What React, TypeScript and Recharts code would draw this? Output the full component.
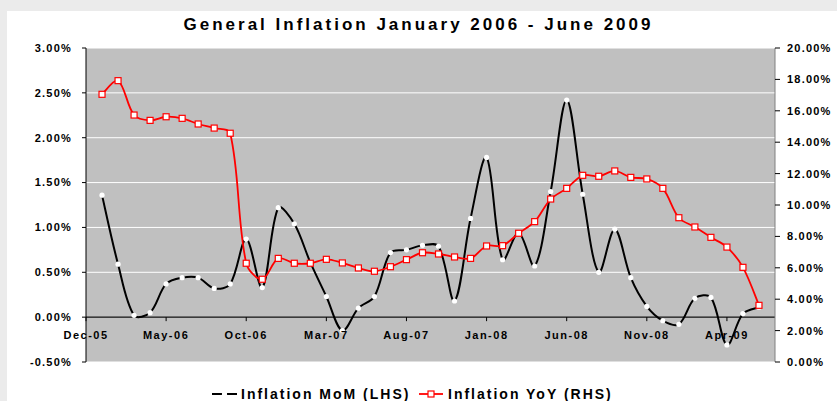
import { LineChart, Line, XAxis, YAxis, CartesianGrid, ReferenceLine } from 'recharts'

const MONTHS = [
  'Jan-06', 'Feb-06', 'Mar-06', 'Apr-06', 'May-06', 'Jun-06', 'Jul-06', 'Aug-06', 'Sep-06', 'Oct-06', 'Nov-06', 'Dec-06',
  'Jan-07', 'Feb-07', 'Mar-07', 'Apr-07', 'May-07', 'Jun-07', 'Jul-07', 'Aug-07', 'Sep-07', 'Oct-07', 'Nov-07', 'Dec-07',
  'Jan-08', 'Feb-08', 'Mar-08', 'Apr-08', 'May-08', 'Jun-08', 'Jul-08', 'Aug-08', 'Sep-08', 'Oct-08', 'Nov-08', 'Dec-08',
  'Jan-09', 'Feb-09', 'Mar-09', 'Apr-09', 'May-09', 'Jun-09',
]

// month on month, % (left axis)
const MOM = [
  1.36, 0.59, 0.02, 0.05, 0.37, 0.44, 0.44, 0.32, 0.37, 0.87, 0.33, 1.22,
  1.04, 0.61, 0.23, -0.15, 0.1, 0.23, 0.72, 0.75, 0.8, 0.79, 0.18, 1.1,
  1.78, 0.64, 0.94, 0.57, 1.4, 2.42, 1.37, 0.5, 0.98, 0.44, 0.12, -0.04,
  -0.08, 0.21, 0.22, -0.31, 0.04, 0.11,
]

// year on year, % (right axis)
const YOY = [
  17.05, 17.92, 15.73, 15.39, 15.62, 15.52, 15.16, 14.9, 14.57, 6.29, 5.27, 6.6,
  6.29, 6.29, 6.54, 6.31, 5.99, 5.78, 6.07, 6.52, 6.96, 6.88, 6.69, 6.6,
  7.39, 7.41, 8.2, 8.94, 10.38, 11.06, 11.89, 11.83, 12.17, 11.76, 11.66, 11.06,
  9.19, 8.6, 7.94, 7.32, 6.03, 3.61,
]

// axis starts one month before the data (Dec-05), labels every 5 months
const X_TICK_LABELS = ['Dec-05', 'May-06', 'Oct-06', 'Mar-07', 'Aug-07', 'Jan-08', 'Jun-08', 'Nov-08', 'Apr-09']
const LEFT_TICKS = [-0.5, 0, 0.5, 1, 1.5, 2, 2.5, 3]
const RIGHT_TICKS = [0, 2, 4, 6, 8, 10, 12, 14, 16, 18, 20]

const data = MONTHS.map((month, i) => ({ idx: i + 1, month, mom: MOM[i], yoy: YOY[i] }))

const FONT = 'Arial, "Liberation Sans", Helvetica, sans-serif'
const W = 837
const H = 401
const MARGIN = { top: 48, right: 0, bottom: 9, left: 26 }
const X_AXIS_H = 30
const PLOT_H = H - MARGIN.top - MARGIN.bottom - X_AXIS_H
const ZERO_OFFSET = (PLOT_H * (0 - LEFT_TICKS[0])) / (LEFT_TICKS[LEFT_TICKS.length - 1] - LEFT_TICKS[0])

// Excel-ish smoothed line: bezier tangents scaled by neighbouring segment lengths
function excelSmooth(context: any) {
  let pts: number[][] = []
  const dist = (a: number[], b: number[]) => Math.hypot(b[0] - a[0], b[1] - a[1]) || 1
  return {
    areaStart() {},
    areaEnd() {},
    lineStart() {
      pts = []
    },
    point(x: number, y: number) {
      pts.push([+x, +y])
    },
    lineEnd() {
      const n = pts.length
      if (!n) return
      context.moveTo(pts[0][0], pts[0][1])
      for (let i = 0; i < n - 1; i++) {
        const p0 = pts[Math.max(0, i - 1)]
        const p1 = pts[i]
        const p2 = pts[i + 1]
        const p3 = pts[Math.min(n - 1, i + 2)]
        const d01 = dist(p0, p1)
        const d12 = dist(p1, p2)
        const d23 = dist(p2, p3)
        const k1 = i === 0 ? 1 / 6 : d12 / (d01 + d12) / 3
        const k2 = i === n - 2 ? 1 / 6 : d12 / (d12 + d23) / 3
        context.bezierCurveTo(
          p1[0] + (p2[0] - p0[0]) * k1,
          p1[1] + (p2[1] - p0[1]) * k1,
          p2[0] - (p3[0] - p1[0]) * k2,
          p2[1] - (p3[1] - p1[1]) * k2,
          p2[0],
          p2[1],
        )
      }
    },
  }
}

const pct = (v: number) => `${v.toFixed(2)}%`

const XTick = (props: any) => {
  const { x, y, payload } = props
  const zy = y - ZERO_OFFSET
  return (
    <g>
      <line x1={x} x2={x} y1={zy} y2={zy + 4} stroke="#000" />
      <text
        x={x}
        y={zy + 22}
        textAnchor="middle"
        fontFamily={FONT}
        fontSize={11}
        fontWeight="bold"
        letterSpacing={1.5}
        fill="#000"
      >
        {X_TICK_LABELS[Math.round(payload.value / 5)]}
      </text>
    </g>
  )
}

const SquareDot = (props: any) => {
  const { cx, cy, index } = props
  if (cx == null || cy == null) return <g key={index} />
  return <rect key={index} x={cx - 3} y={cy - 3} width={6} height={6} fill="#fff" stroke="#ff0000" strokeWidth={1.2} />
}

const tickStyle = { fill: '#000', fontSize: 11, fontWeight: 'bold', fontFamily: FONT, letterSpacing: 1.2 }

export default function App() {
  return (
    <div style={{ position: 'absolute', left: 0, top: 0, width: W, height: H, background: '#ebebeb', overflow: 'hidden' }}>
      <div style={{ position: 'absolute', left: 7, top: 11, right: 0, bottom: 0, background: '#fff' }} />
      <div
        style={{
          position: 'absolute',
          left: 0,
          top: 16,
          width: W,
          textAlign: 'center',
          fontFamily: FONT,
          fontSize: 17,
          lineHeight: '17px',
          fontWeight: 'bold',
          letterSpacing: 3,
          color: '#000',
        }}
      >
        General Inflation January 2006 - June 2009
      </div>
      <div style={{ position: 'absolute', left: 0, top: 0 }}>
        <LineChart width={W} height={H} data={data} margin={MARGIN}>
          <CartesianGrid yAxisId="left" vertical={false} stroke="#fff" fill="#c0c0c0" fillOpacity={1} />
          <XAxis
            dataKey="idx"
            type="number"
            domain={[0, 43]}
            ticks={X_TICK_LABELS.map((_, i) => i * 5)}
            axisLine={false}
            tickLine={false}
            tickSize={0}
            tickMargin={0}
            height={X_AXIS_H}
            tick={<XTick />}
            interval={0}
          />
          <YAxis
            yAxisId="left"
            domain={[-0.5, 3]}
            ticks={LEFT_TICKS}
            tickFormatter={pct}
            width={60}
            stroke="#000"
            tickSize={4}
            tickMargin={10}
            tick={tickStyle}
            interval={0}
          />
          <YAxis
            yAxisId="right"
            orientation="right"
            domain={[0, 20]}
            ticks={RIGHT_TICKS}
            tickFormatter={pct}
            width={62}
            stroke="#808080"
            tickLine={{ stroke: '#000' }}
            tickSize={5}
            tickMargin={7}
            tick={tickStyle}
            interval={0}
          />
          <ReferenceLine yAxisId="left" y={0} stroke="#000" strokeWidth={1.3} />
          <Line
            yAxisId="left"
            dataKey="mom"
            type={excelSmooth as any}
            stroke="#000"
            strokeWidth={2}
            dot={{ r: 2.6, fill: '#fff', stroke: 'none' }}
            isAnimationActive={false}
          />
          <Line
            yAxisId="right"
            dataKey="yoy"
            type={excelSmooth as any}
            stroke="#ff0000"
            strokeWidth={1.8}
            dot={SquareDot}
            isAnimationActive={false}
          />
        </LineChart>
      </div>
      <svg width={W} height={20} style={{ position: 'absolute', left: 0, top: 383 }}>
        <line x1={212} x2={237} y1={11} y2={11} stroke="#000" strokeWidth={2} />
        <circle cx={224.5} cy={11} r={2.6} fill="#fff" />
        <text x={241} y={16.3} fontFamily={FONT} fontSize={14} fontWeight="bold" letterSpacing={2} fill="#000">
          Inflation MoM (LHS)
        </text>
        <line x1={419} x2={443} y1={11} y2={11} stroke="#ff0000" strokeWidth={1.8} />
        <rect x={428} y={8} width={6} height={6} fill="#fff" stroke="#ff0000" strokeWidth={1.2} />
        <text x={448} y={16.3} fontFamily={FONT} fontSize={14} fontWeight="bold" letterSpacing={2} fill="#000">
          Inflation YoY (RHS)
        </text>
      </svg>
    </div>
  )
}
